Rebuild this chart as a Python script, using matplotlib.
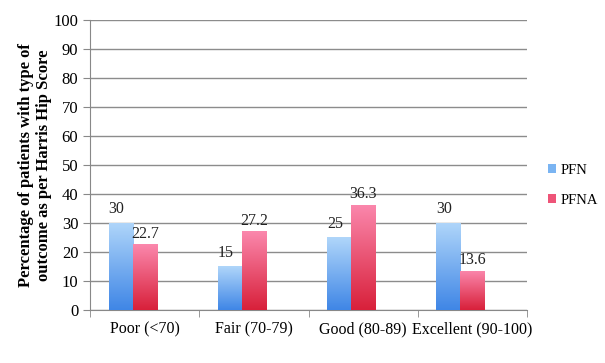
import numpy as np
import matplotlib.pyplot as plt
from matplotlib.colors import LinearSegmentedColormap
from matplotlib.patches import Patch

categories = ["Poor (<70)", "Fair (70-79)", "Good (80-89)", "Excellent (90-100)"]
pfn = [30, 15, 25, 30]
pfna = [22.7, 27.2, 36.3, 13.6]
pfn_labels = ["30", "15", "25", "30"]
pfna_labels = ["22.7", "27.2", "36.3", "13.6"]

plt.rcParams['font.family'] = ['Liberation Serif', 'DejaVu Serif']

fig = plt.figure(figsize=(6.05, 3.63), dpi=100)
ax = fig.add_axes([0.149, 0.146, 0.722, 0.799])

blue_cmap = LinearSegmentedColormap.from_list("b", ["#3f86e6", "#b0d6fa"])
red_cmap = LinearSegmentedColormap.from_list("r", ["#d8203a", "#fb88ad"])

x = np.arange(len(categories))
w = 0.22
off = -0.11  # groups sit a bit left of the category centre

def grad_bars(xs, vals, cmap):
    bars = ax.bar(xs, vals, w, color="none", zorder=3)
    grad = np.linspace(0, 1, 256).reshape(-1, 1)
    for b in bars:
        x0, y0 = b.get_x(), b.get_y()
        im = ax.imshow(grad, cmap=cmap, origin="lower", aspect="auto",
                       extent=[x0, x0 + b.get_width(), y0, y0 + b.get_height()],
                       zorder=3)
        im.set_clip_path(b)
    return bars

b1 = grad_bars(x + off - w / 2, pfn, blue_cmap)
b2 = grad_bars(x + off + w / 2, pfna, red_cmap)

fs = 11.5
for xi, v, t in zip(x + off - w / 2, pfn, pfn_labels):
    ax.text(xi - 0.04, v + 2.0, t, ha="center", va="bottom", fontsize=fs, color="#222222")
for xi, v, t in zip(x + off + w / 2, pfna, pfna_labels):
    ax.text(xi, v + 0.8, t, ha="center", va="bottom", fontsize=fs, color="#222222")

ax.set_xlim(-0.5, len(categories) - 0.5)
ax.set_ylim(0, 100)
ax.set_yticks(np.arange(0, 101, 10))
ax.set_xticks(x)
ax.set_xticklabels(categories, fontsize=fs)
ax.set_xticks(np.arange(-0.5, len(categories), 1), minor=True)
ax.tick_params(axis="x", which="major", length=0, pad=8)
ax.tick_params(axis="x", which="minor", length=5, color="#888888")
ax.tick_params(axis="y", length=5, color="#888888", labelsize=12)
ax.grid(axis="y", color="#8c8c8c", linewidth=1.0, zorder=0)
ax.set_axisbelow(True)
for s in ["top", "right"]:
    ax.spines[s].set_visible(False)
ax.spines["left"].set_color("#888888")
ax.spines["bottom"].set_color("#888888")

ax.set_ylabel("Percentage of patients with type of\noutcome as per Harris Hip Score",
              fontsize=12, fontweight="bold", labelpad=1)

handles = [Patch(facecolor="#7ab4f2", label="PFN"), Patch(facecolor="#ee5478", label="PFNA")]
fig.legend(handles=handles, loc="center left", bbox_to_anchor=(0.906, 0.49),
           frameon=False, fontsize=10.5, handlelength=0.55, handleheight=0.55,
           handletextpad=0.3, labelspacing=1.15, borderpad=0, borderaxespad=0)

fig.savefig("out.png", dpi=100)
